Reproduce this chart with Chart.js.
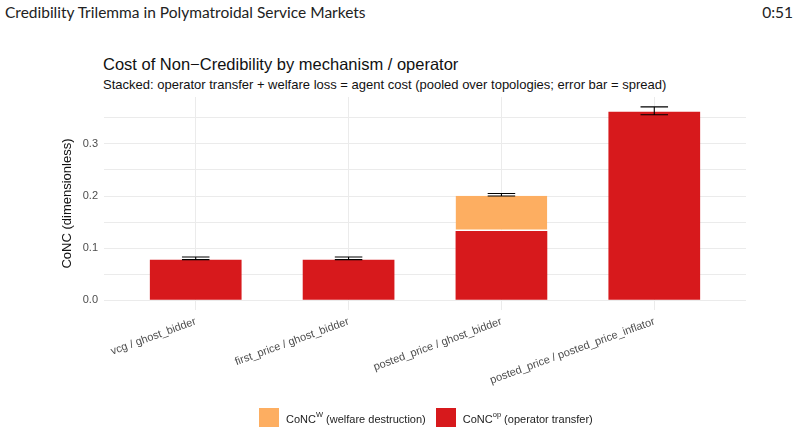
<!DOCTYPE html>
<html>
<head>
<meta charset="utf-8">
<script src="https://cdn.jsdelivr.net/npm/chart.js@4/dist/chart.umd.min.js"></script>
<style>
  body { margin: 0; background: #fff; font-family: "Liberation Sans", Arial, sans-serif; }
  #wrap { position: relative; width: 800px; height: 434px; overflow: hidden; }
  #grafico { position: absolute; left: 0; top: 0; }
  .cabecera { position: absolute; top: 3px; font-family: Lato, "Open Sans", sans-serif; font-size: 15.5px; color: #222; }
  #titulo { position: absolute; left: 103px; top: 55px; font-size: 16.5px; color: #111; }
  #subtitulo { position: absolute; left: 103px; top: 77px; font-size: 13px; color: #111; }
  #leyenda { position: absolute; left: 259px; top: 408px; display: flex; align-items: center; font-size: 11px; color: #222; }
  .item { display: flex; align-items: center; margin-right: 10px; }
  .caja { width: 20px; height: 19px; margin-right: 7px; }
  sup { font-size: 7.5px; vertical-align: 6px; }
</style>
</head>
<body>
<div id="wrap">
  <div class="cabecera" style="left:5px">Credibility Trilemma in Polymatroidal Service Markets</div>
  <div class="cabecera" style="right:7px">0:51</div>
  <div id="titulo">Cost of Non−Credibility by mechanism / operator</div>
  <div id="subtitulo">Stacked: operator transfer + welfare loss = agent cost (pooled over topologies; error bar = spread)</div>
  <canvas id="grafico" width="800" height="434"></canvas>
  <div id="leyenda"></div>
</div>
<script>
// Datos
const categorias = ['vcg / ghost_bidder', 'first_price / ghost_bidder', 'posted_price / ghost_bidder', 'posted_price / posted_price_inflator'];
const transferenciaOperador = [0.078, 0.078, 0.133, 0.3615];
const perdidaBienestar = [0, 0, 0.0675, 0];
const errorBajo = [0.078, 0.078, 0.200, 0.356];
const errorAlto = [0.083, 0.083, 0.205, 0.371];
const ticksY = [0.0, 0.1, 0.2, 0.3];

const nombreOperador = 'CoNC^op (operator transfer)';
const nombreBienestar = 'CoNC^W (welfare destruction)';
const colorOperador = '#D7191C';
const colorBienestar = '#FDAE61';

// Leyenda HTML (para los superíndices)
const leyenda = document.getElementById('leyenda');
[[nombreBienestar, colorBienestar], [nombreOperador, colorOperador]].forEach(([nombre, color]) => {
  const div = document.createElement('div');
  div.className = 'item';
  div.innerHTML = `<span class="caja" style="background:${color}"></span><span>${nombre.replace(/\^(\w+)/, '<sup>$1</sup>')}</span>`;
  leyenda.appendChild(div);
});

// Barras de error dibujadas con las escalas
const barrasError = {
  id: 'barrasError',
  afterDatasetsDraw(chart) {
    const { ctx, scales: { x, y } } = chart;
    const medio = (x.getPixelForValue(1) - x.getPixelForValue(0)) * 0.09;
    ctx.save();
    ctx.strokeStyle = '#000';
    ctx.lineWidth = 1.1;
    errorBajo.forEach((bajo, i) => {
      const px = x.getPixelForValue(i);
      const y1 = y.getPixelForValue(bajo);
      const y2 = y.getPixelForValue(errorAlto[i]);
      ctx.beginPath();
      ctx.moveTo(px, y1); ctx.lineTo(px, y2);
      ctx.moveTo(px - medio, y1); ctx.lineTo(px + medio, y1);
      ctx.moveTo(px - medio, y2); ctx.lineTo(px + medio, y2);
      ctx.stroke();
    });
    ctx.restore();
  }
};

const fuente = { family: '"Liberation Sans", Arial, sans-serif', size: 11 };

new Chart(document.getElementById('grafico'), {
  type: 'bar',
  data: {
    datasets: [{
      label: nombreOperador.replace('^', ''),
      data: transferenciaOperador.map((v, i) => ({ x: i, y: v })),
      backgroundColor: colorOperador,
      borderWidth: 0
    }, {
      label: nombreBienestar.replace('^', ''),
      data: perdidaBienestar.map((v, i) => ({ x: i, y: v })),
      backgroundColor: colorBienestar,
      borderColor: 'rgba(255,255,255,0.85)',
      borderWidth: { bottom: 1.5 },
      borderSkipped: false
    }]
  },
  options: {
    responsive: false,
    animation: false,
    categoryPercentage: 1,
    barPercentage: 0.6,
    layout: { padding: { left: 60, top: 97, right: 54, bottom: 34 } },
    plugins: { legend: { display: false }, tooltip: { enabled: false } },
    scales: {
      x: {
        type: 'linear',
        stacked: true,
        min: -0.6,
        max: 3.6,
        offset: false,
        afterBuildTicks: (s) => { s.ticks = categorias.map((c, i) => ({ value: i })); },
        afterFit: (s) => { s.height = 90; },
        grid: { color: '#ebebeb', drawTicks: false, offset: false },
        border: { display: false },
        ticks: {
          autoSkip: false,
          maxRotation: 20,
          minRotation: 20,
          padding: 5,
          color: '#4d4d4d',
          font: fuente,
          callback: (v) => categorias[v]
        }
      },
      y: {
        stacked: true,
        min: -0.0186,
        max: 0.39,
        afterBuildTicks: (s) => {
          const t = [];
          for (let k = 0; k <= 7; k++) t.push({ value: k * 0.05 });
          s.ticks = t;
        },
        afterFit: (s) => { s.width = 104 - 60; },
        grid: { color: '#ebebeb', drawTicks: false },
        border: { display: false },
        title: { display: true, text: 'CoNC (dimensionless)', color: '#111', font: { family: fuente.family, size: 13 }, padding: { top: 0, bottom: 4 } },
        ticks: {
          padding: 6,
          color: '#4d4d4d',
          font: fuente,
          callback: (v) => ticksY.some(t => Math.abs(t - v) < 1e-9) ? v.toFixed(1) : ''
        }
      }
    }
  },
  plugins: [barrasError]
});
</script>
</body>
</html>
